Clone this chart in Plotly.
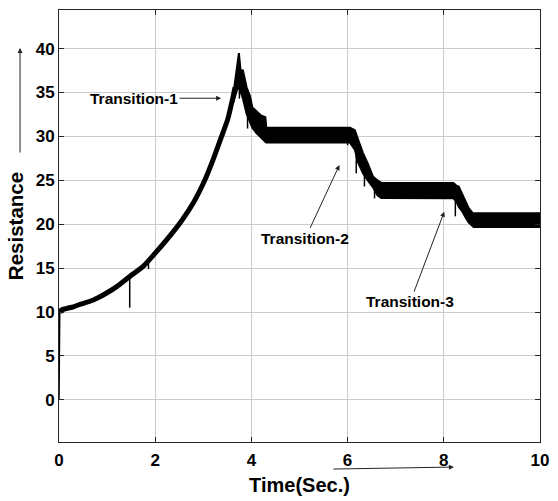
import plotly.graph_objects as go

# ---- data ----
# initial jump at switch-on
start_t = [0.0, 0.005, 0.015]
start_r = [0.0, 6.0, 9.9]

# rising part (centre of trace)
rise_t = [0.015, 0.04, 0.15, 0.3, 0.45, 0.63, 0.8, 1.0, 1.2, 1.47, 1.75, 2.0, 2.25, 2.55, 2.8,
          3.03, 3.2, 3.38, 3.51, 3.61, 3.66]
rise_r = [9.9, 10.2, 10.4, 10.6, 10.9, 11.2, 11.6, 12.2, 12.9, 14.05, 15.2, 16.7, 18.3, 20.4, 22.5,
          25.0, 27.3, 30.0, 32.0, 34.3, 35.6]

# oscillating part: upper / lower envelope
band_t = [3.62, 3.66, 3.70, 3.74, 3.78, 3.82, 3.90, 3.97, 4.02, 4.10, 4.20, 4.29, 4.31, 6.05, 6.15,
          6.22, 6.32, 6.42, 6.53, 6.62, 6.70, 6.71, 8.20, 8.26, 8.31, 8.38, 8.45, 8.52, 8.60, 8.62, 10.0]
band_upper = [34.6, 36.3, 37.6, 39.5, 37.2, 37.6, 35.6, 34.6, 33.3, 32.9, 32.4, 32.2, 31.0, 31.0, 30.7,
              29.6, 28.1, 26.9, 25.4, 25.0, 24.8, 24.7, 24.7, 24.4, 24.3, 23.5, 22.6, 21.8, 21.3, 21.25, 21.25]
band_lower = [33.8, 34.6, 35.3, 35.6, 35.0, 34.4, 32.6, 31.6, 31.0, 30.4, 29.9, 29.4, 29.3, 29.3, 28.5,
              27.0, 25.8, 25.0, 24.2, 23.3, 23.0, 22.95, 22.95, 22.6, 22.0, 21.5, 20.8, 20.2, 19.8, 19.7, 19.7]

# narrow downward spikes
spike_t = [1.47, 1.86, 3.75, 3.92, 6.0, 6.18, 6.35, 6.56, 8.24]
spike_top = [14.1, 16.0, 36.0, 33.0, 29.6, 28.0, 25.8, 24.0, 23.0]
spike_bottom = [10.5, 14.9, 34.3, 30.9, 29.0, 25.8, 24.3, 22.95, 20.9]

x_ticks = [0, 2, 4, 6, 8, 10]
y_ticks = [0, 5, 10, 15, 20, 25, 30, 35, 40]

FONT = "Arial, Liberation Sans, Helvetica, sans-serif"

fig = go.Figure()

fig.add_trace(go.Scatter(x=start_t, y=start_r, mode="lines",
                         line=dict(color="black", width=1.5),
                         hoverinfo="skip", showlegend=False))
fig.add_trace(go.Scatter(x=rise_t, y=rise_r, mode="lines",
                         line=dict(color="black", width=5, shape="spline", smoothing=0.6),
                         hoverinfo="skip", showlegend=False))
fig.add_trace(go.Scatter(
    x=band_t + band_t[::-1], y=band_upper + band_lower[::-1],
    mode="lines", fill="toself", fillcolor="black",
    line=dict(color="black", width=2), hoverinfo="skip", showlegend=False))

sx, sy = [], []
for st, top, bot in zip(spike_t, spike_top, spike_bottom):
    sx += [st, st, None]
    sy += [top, bot, None]
fig.add_trace(go.Scatter(x=sx, y=sy, mode="lines",
                         line=dict(color="black", width=1.5),
                         hoverinfo="skip", showlegend=False))

ann_font = dict(family=FONT, size=15.5, color="black")
fig.add_annotation(x=3.37, y=34.35, ax=-87, ay=0, text="<b>Transition-1</b>",
                   showarrow=True, arrowhead=2, arrowsize=1, arrowwidth=1,
                   arrowcolor="#222", font=ann_font)
fig.add_annotation(x=5.83, y=26.74, ax=-34, ay=73, text="<b>Transition-2</b>",
                   showarrow=True, arrowhead=2, arrowsize=1, arrowwidth=1,
                   arrowcolor="#222", font=ann_font)
fig.add_annotation(x=8.01, y=21.43, ax=-34, ay=90, text="<b>Transition-3</b>",
                   showarrow=True, arrowhead=2, arrowsize=1, arrowwidth=1,
                   arrowcolor="#222", font=ann_font)

# axis-direction arrows
fig.add_annotation(xref="paper", yref="paper", x=-0.081, y=0.912, ax=0, ay=106,
                   text="", showarrow=True, arrowhead=2, arrowsize=1, arrowwidth=1,
                   arrowcolor="#222")
fig.add_annotation(xref="paper", yref="paper", x=0.821, y=-0.058, ax=-122, ay=2,
                   text="", showarrow=True, arrowhead=2, arrowsize=1, arrowwidth=1,
                   arrowcolor="#222")

axis_common = dict(showgrid=True, gridcolor="#cccccc", gridwidth=1,
                   showline=True, linecolor="#262626", linewidth=1, mirror="ticks",
                   ticks="inside", ticklen=5, tickcolor="#262626", zeroline=False,
                   tickfont=dict(family=FONT, size=17, color="black"))

fig.update_xaxes(range=[0, 10], tickvals=x_ticks,
                 ticktext=[f"<b>{v}</b>" for v in x_ticks],
                 ticklabelstandoff=3,
                 title=dict(text="<b>Time(Sec.)</b>", font=dict(family=FONT, size=20, color="black"),
                            standoff=8),
                 **axis_common)
fig.update_yaxes(range=[-4.8, 44.4], tickvals=y_ticks,
                 ticktext=[f"<b>{v}</b>" for v in y_ticks],
                 title=dict(text="<b>Resistance</b>", font=dict(family=FONT, size=20.5, color="black"),
                            standoff=6),
                 **axis_common)

fig.update_layout(width=558, height=501, margin=dict(l=59, r=13, t=9, b=58),
                  paper_bgcolor="white", plot_bgcolor="white", showlegend=False)

fig.write_html("out.html")
